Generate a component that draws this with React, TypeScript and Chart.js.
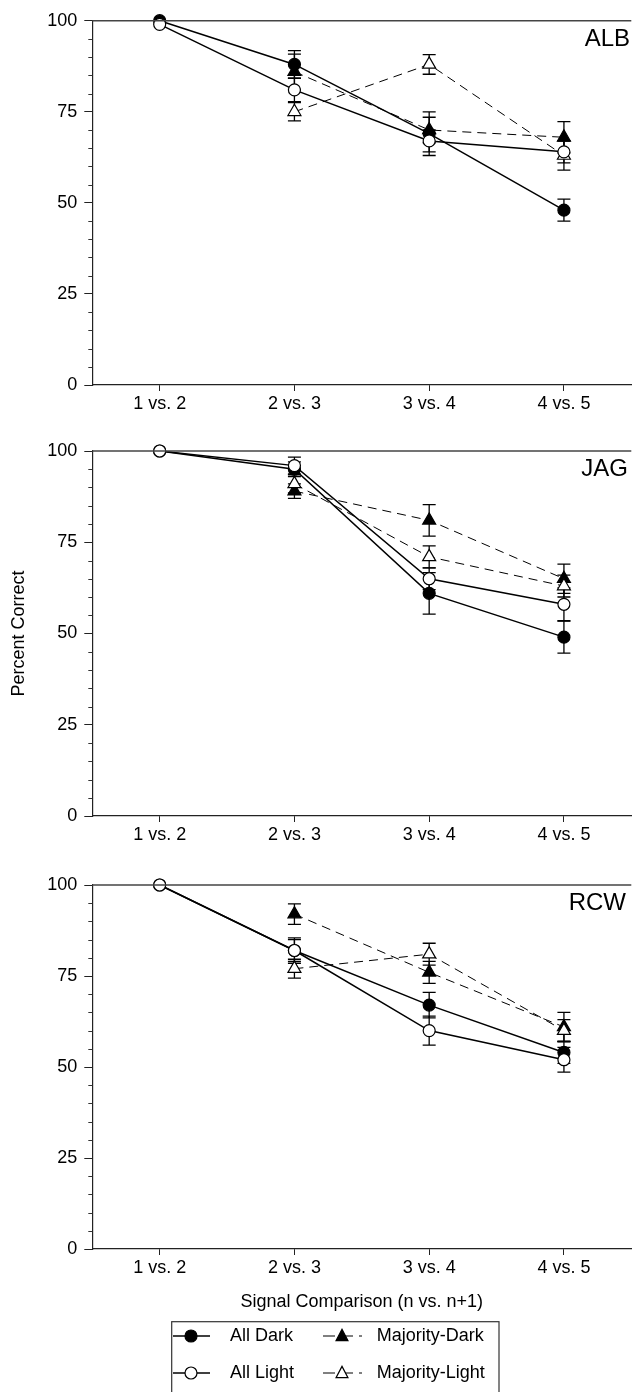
import React, { useEffect, useRef } from "react";
import { Chart, registerables } from "chart.js";

Chart.register(...registerables);

// ---------- data ----------
const categories = ["1 vs. 2", "2 vs. 3", "3 vs. 4", "4 vs. 5"];
const yTickValues = [0, 25, 50, 75, 100];
const seriesNames = ["All Dark", "All Light", "Majority-Dark", "Majority-Light"];
const panelNames = ["ALB", "JAG", "RCW"];

const albAllDark = [100, 88, 69, 48];
const albAllDarkErr = [0, 3.8, 6, 3];
const albAllLight = [99, 81, 67, 64];
const albAllLightErr = [0, 3.2, 3, 3];
const albMajDark = [null, 86, 70, 68];
const albMajDarkErr = [null, 4.8, 3.5, 4.3];
const albMajLight = [null, 75, 88, 63];
const albMajLightErr = [null, 2.5, 2.7, 4];

const jagAllDark = [100, 95, 61, 49];
const jagAllDarkErr = [0, 2, 5.7, 4.4];
const jagAllLight = [100, 96, 65, 58];
const jagAllLightErr = [0, 2.3, 3, 4.5];
const jagMajDark = [null, 89, 81, 65];
const jagMajDarkErr = [null, 2, 4.3, 4];
const jagMajLight = [null, 91, 71, 63];
const jagMajLightErr = [null, 2.5, 3, 3];

const rcwAllDark = [100, 82, 67, 54];
const rcwAllDarkErr = [0, 3.5, 3.5, 3];
const rcwAllLight = [100, 82, 60, 52];
const rcwAllLightErr = [0, 3, 4, 3.4];
const rcwMajDark = [null, 92, 76, 61];
const rcwMajDarkErr = [null, 2.8, 3, 4];
const rcwMajLight = [null, 77, 81, 60];
const rcwMajLightErr = [null, 2.6, 3, 3];

// ---------- layout / style ----------
const FONT = "'Liberation Sans', Arial, Helvetica, sans-serif";
const CANVAS_W = 640;
const AREA_LEFT = 92.3;
const AREA_RIGHT = 636.7;

type PanelCfg = {
  name: string;
  top: number;
  height: number;
  areaTop: number;
  areaBottom: number;
  xScaleHeight: number;
  labelRight: number;
  yTitle: boolean;
  xTitle: boolean;
  legend: boolean;
  values: (number | null)[][];
  errors: (number | null)[][];
};

const panels: PanelCfg[] = [
  {
    name: panelNames[0], top: 0, height: 432, areaTop: 20.7, areaBottom: 385, xScaleHeight: 47,
    labelRight: 630, yTitle: false, xTitle: false, legend: false,
    values: [albAllDark, albAllLight, albMajDark, albMajLight],
    errors: [albAllDarkErr, albAllLightErr, albMajDarkErr, albMajLightErr],
  },
  {
    name: panelNames[1], top: 432, height: 432, areaTop: 19, areaBottom: 384, xScaleHeight: 48,
    labelRight: 628, yTitle: true, xTitle: false, legend: false,
    values: [jagAllDark, jagAllLight, jagMajDark, jagMajLight],
    errors: [jagAllDarkErr, jagAllLightErr, jagMajDarkErr, jagMajLightErr],
  },
  {
    name: panelNames[2], top: 864, height: 528, areaTop: 21, areaBottom: 385, xScaleHeight: 63.8,
    labelRight: 626, yTitle: false, xTitle: true, legend: true,
    values: [rcwAllDark, rcwAllLight, rcwMajDark, rcwMajLight],
    errors: [rcwAllDarkErr, rcwAllLightErr, rcwMajDarkErr, rcwMajLightErr],
  },
];

const seriesStyles = [
  { pointStyle: "circle", radius: 6, fill: "#000", dash: [] as number[], width: 1.5 },
  { pointStyle: "circle", radius: 6, fill: "#fff", dash: [] as number[], width: 1.5 },
  { pointStyle: "triangle", radius: 7.5, fill: "#000", dash: [9, 6], width: 1 },
  { pointStyle: "triangle", radius: 7.5, fill: "#fff", dash: [9, 6], width: 1 },
];
// draw order (first drawn on top): All Light, All Dark, Majority-Light, Majority-Dark
const drawOrder = [1, 0, 3, 2];

const errorBarPlugin = {
  id: "errorBars",
  beforeDatasetsDraw(chart: any) {
    const ctx = chart.ctx;
    const y = chart.scales.y;
    ctx.save();
    ctx.strokeStyle = "#000";
    ctx.lineWidth = 1.3;
    chart.data.datasets.forEach((ds: any, di: number) => {
      const meta = chart.getDatasetMeta(di);
      ds.data.forEach((v: number | null, i: number) => {
        const e = ds.errors ? ds.errors[i] : null;
        if (v == null || !e) return;
        const px = meta.data[i].x;
        const yTop = y.getPixelForValue(v + e);
        const yBot = y.getPixelForValue(v - e);
        ctx.beginPath();
        ctx.moveTo(px, yTop);
        ctx.lineTo(px, yBot);
        ctx.moveTo(px - 6.5, yTop);
        ctx.lineTo(px + 6.5, yTop);
        ctx.moveTo(px - 6.5, yBot);
        ctx.lineTo(px + 6.5, yBot);
        ctx.stroke();
      });
    });
    ctx.restore();
  },
};

function drawMarker(ctx: CanvasRenderingContext2D, style: string, x: number, y: number, r: number, fill: string) {
  ctx.save();
  ctx.fillStyle = fill;
  ctx.strokeStyle = "#000";
  ctx.lineWidth = 1.2;
  ctx.beginPath();
  if (style === "circle") {
    ctx.arc(x, y, r, 0, Math.PI * 2);
  } else {
    const h = r * 1.6;
    ctx.moveTo(x, y - h / 2 - 1);
    ctx.lineTo(x + r * 0.85, y + h / 2 - 1);
    ctx.lineTo(x - r * 0.85, y + h / 2 - 1);
    ctx.closePath();
  }
  ctx.fill();
  ctx.stroke();
  ctx.restore();
}

function makeDecorPlugin(cfg: PanelCfg) {
  return {
    id: "decor" + cfg.name,
    afterDraw(chart: any) {
      const ctx = chart.ctx;
      const area = chart.chartArea;
      const y = chart.scales.y;
      ctx.save();
      // top frame line
      ctx.strokeStyle = "#444";
      ctx.lineWidth = 1.5;
      ctx.beginPath();
      ctx.moveTo(area.left, area.top);
      ctx.lineTo(area.right, area.top);
      ctx.stroke();
      // minor y ticks
      ctx.strokeStyle = "#333";
      ctx.lineWidth = 1;
      for (let v = 5; v < 100; v += 5) {
        if (v % 25 === 0) continue;
        const py = Math.round(y.getPixelForValue(v)) + 0.5;
        ctx.beginPath();
        ctx.moveTo(area.left - 4, py);
        ctx.lineTo(area.left, py);
        ctx.stroke();
      }
      // panel label
      ctx.fillStyle = "#000";
      ctx.font = `24px ${FONT}`;
      ctx.textAlign = "right";
      ctx.textBaseline = "alphabetic";
      ctx.fillText(cfg.name, cfg.labelRight, area.top + 25);

      if (cfg.legend) {
        const boxLeft = 171.7;
        const boxTop = 457.7;
        const boxRight = 499;
        ctx.strokeStyle = "#333";
        ctx.lineWidth = 1.2;
        ctx.strokeRect(boxLeft, boxTop, boxRight - boxLeft, chart.height - boxTop + 5);
        const rows = [472, 509];
        const cols = [
          { lineL: 173, lineR: 210, mk: 191, text: 230 },
          { lineL: 323, lineR: 362, mk: 342, text: 376.7 },
        ];
        const items = [
          { s: 0, col: 0, row: 0 },
          { s: 1, col: 0, row: 1 },
          { s: 2, col: 1, row: 0 },
          { s: 3, col: 1, row: 1 },
        ];
        items.forEach((it) => {
          const st = seriesStyles[it.s];
          const c = cols[it.col];
          const ry = rows[it.row];
          ctx.save();
          ctx.strokeStyle = "#000";
          ctx.lineWidth = st.width;
          ctx.setLineDash(st.dash.length ? [12, 6] : []);
          ctx.beginPath();
          ctx.moveTo(c.lineL, ry);
          ctx.lineTo(c.lineR, ry);
          ctx.stroke();
          ctx.restore();
          drawMarker(ctx, st.pointStyle, c.mk, ry, st.pointStyle === "circle" ? 6 : 7, st.fill);
          ctx.fillStyle = "#000";
          ctx.font = `18px ${FONT}`;
          ctx.textAlign = "left";
          ctx.textBaseline = "middle";
          ctx.fillText(seriesNames[it.s], c.text, ry);
        });
      }
      ctx.restore();
    },
  };
}

function Panel({ cfg }: { cfg: PanelCfg }) {
  const ref = useRef<HTMLCanvasElement | null>(null);
  useEffect(() => {
    if (!ref.current) return;
    const padBottom = cfg.height - cfg.areaBottom - cfg.xScaleHeight;
    const datasets = drawOrder.map((s) => {
      const st = seriesStyles[s];
      return {
        label: seriesNames[s],
        data: cfg.values[s],
        errors: cfg.errors[s],
        borderColor: "#000",
        borderWidth: st.width,
        borderDash: st.dash,
        pointStyle: st.pointStyle,
        pointRadius: st.radius,
        pointBackgroundColor: st.fill,
        pointBorderColor: "#000",
        pointBorderWidth: 1.2,
        tension: 0,
        fill: false,
        spanGaps: false,
        clip: false,
      } as any;
    });
    const chart = new Chart(ref.current, {
      type: "line",
      data: { labels: categories, datasets },
      options: {
        animation: false,
        responsive: false,
        maintainAspectRatio: false,
        devicePixelRatio: 1,
        layout: {
          padding: { top: cfg.areaTop, left: 0, right: CANVAS_W - AREA_RIGHT, bottom: padBottom },
        },
        plugins: {
          legend: { display: false },
          tooltip: { enabled: false },
        },
        scales: {
          x: {
            type: "category",
            offset: true,
            grid: { display: true, drawOnChartArea: false, tickLength: 6, color: "#222", lineWidth: 1 },
            border: { display: true, color: "#222", width: 1.2 },
            ticks: {
              font: { family: FONT, size: 18 },
              color: "#000",
              padding: 2,
              maxRotation: 0,
              autoSkip: false,
            },
            title: {
              display: cfg.xTitle,
              text: "Signal Comparison (n vs. n+1)",
              font: { family: FONT, size: 18 },
              color: "#000",
              padding: { top: 0, bottom: 0 },
            },
            afterFit: (s: any) => {
              s.height = cfg.xScaleHeight;
            },
          },
          y: {
            type: "linear",
            min: 0,
            max: 100,
            afterBuildTicks: (s: any) => {
              s.ticks = yTickValues.map((v) => ({ value: v }));
            },
            grid: { display: true, drawOnChartArea: false, tickLength: 8, color: "#222", lineWidth: 1 },
            border: { display: true, color: "#222", width: 1.2 },
            ticks: {
              font: { family: FONT, size: 18 },
              color: "#000",
              padding: 7,
            },
            title: {
              display: cfg.yTitle,
              text: "Percent Correct",
              font: { family: FONT, size: 18 },
              color: "#000",
              padding: { top: 8.7, bottom: 0 },
            },
            afterFit: (s: any) => {
              s.width = AREA_LEFT;
            },
          },
        },
      } as any,
      plugins: [errorBarPlugin, makeDecorPlugin(cfg)],
    });
    return () => chart.destroy();
  }, [cfg]);
  return (
    <canvas
      ref={ref}
      width={CANVAS_W}
      height={cfg.height}
      style={{ position: "absolute", left: 0, top: cfg.top, width: CANVAS_W, height: cfg.height, display: "block" }}
    />
  );
}

export default function App() {
  return (
    <div
      style={{
        position: "absolute",
        left: 0,
        top: 0,
        width: 635,
        height: 1392,
        overflow: "hidden",
        background: "#fff",
      }}
    >
      {panels.map((p) => (
        <Panel key={p.name} cfg={p} />
      ))}
    </div>
  );
}
